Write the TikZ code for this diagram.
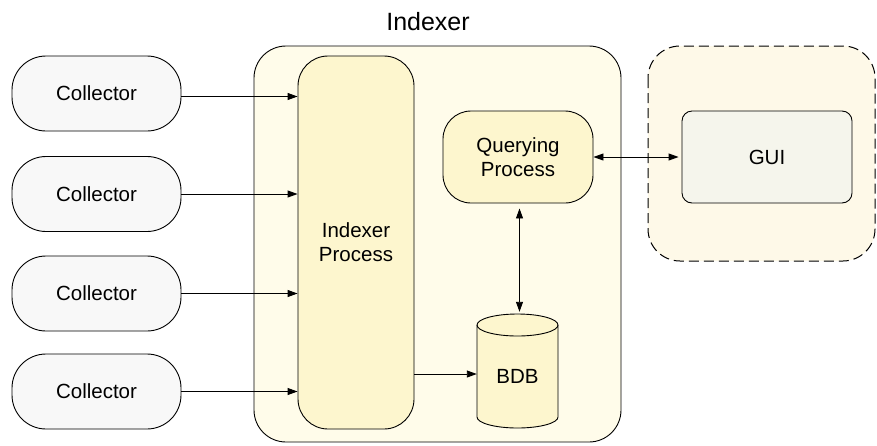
\documentclass[tikz,border=0pt]{standalone}
\usepackage{fontspec}
\setmainfont{Liberation Sans}
\usetikzlibrary{arrows.meta}

\definecolor{indexerbg}{RGB}{255,252,234}
\definecolor{procfill}{RGB}{253,246,206}
\definecolor{collfill}{RGB}{248,248,248}
\definecolor{guifill}{RGB}{245,245,236}
\definecolor{guibg}{RGB}{254,249,232}

\tikzset{
  box/.style={draw=black, line width=0.9pt, align=center,
    font=\fontsize{20.5}{24}\selectfont},
  collector/.style={box, fill=collfill, rounded corners=34pt,
    minimum width=169pt, minimum height=75pt},
  process/.style={box, fill=procfill, rounded corners=30pt},
  frame/.style={draw=black, line width=0.9pt, rounded corners=32pt},
  outline/.style={draw=black, line width=0.9pt},
  link/.style={line width=0.9pt, -{Triangle[length=10pt,width=7pt]}},
  duplex/.style={line width=0.9pt,
    {Triangle[length=10pt,width=7pt]}-{Triangle[length=10pt,width=7pt]}}
}

\begin{document}
\begin{tikzpicture}[x=1pt,y=-1pt]
  \useasboundingbox (0,0) rectangle (877,445);

  % containers
  \draw[frame, fill=indexerbg] (254,46) rectangle (621,442);
  \draw[frame, fill=guibg, line width=1pt, dash pattern=on 10pt off 5pt] (648,46) rectangle (875,261);
  \node (title) at (428,22) {\fontsize{25}{28}\selectfont Indexer};

  % collectors
  \node[collector] (c1) at (96.5,93.5) {Collector};
  \node[collector] (c2) at (96.5,194) {Collector};
  \node[collector] (c3) at (96.5,293.5) {Collector};
  \node[collector] (c4) at (96.5,391.5) {Collector};

  % indexer internals
  \node[process, minimum width=116pt, minimum height=373pt] (proc) at (356,242.5)
    {Indexer\\Process};
  \node[process, rounded corners=28pt, minimum width=150pt, minimum height=92pt]
    (qp) at (518,157) {Querying\\Process};

  % database cylinder
  \draw[outline, fill=procfill] (477,325) -- (477,417)
    arc[start angle=180, end angle=360, x radius=40.5pt, y radius=11pt]
    -- (558,325)
    arc[start angle=0, end angle=180, x radius=40.5pt, y radius=11pt] -- cycle;
  \draw[outline] (477,325)
    arc[start angle=180, end angle=360, x radius=40.5pt, y radius=11pt];
  \node[font=\fontsize{20.5}{24}\selectfont, minimum width=81pt, minimum height=104pt]
    (bdb) at (517.5,376) {BDB};

  % GUI
  \node[box, fill=guifill, rounded corners=10pt, minimum width=170pt,
    minimum height=92pt] (gui) at (767,157) {GUI};

  % connectors
  \draw[link] ([yshift=-3pt]c1.east) -- ([yshift=-3pt]c1.east -| proc.west);
  \draw[link] (c2.east) -- (c2.east -| proc.west);
  \draw[link] (c3.east) -- (c3.east -| proc.west);
  \draw[link] (c4.east) -- (c4.east -| proc.west);
  \draw[link] ([yshift=2pt]proc.east |- bdb.center) -- ([yshift=2pt]bdb.west);
  \draw[duplex, shorten >=3pt] (qp.east) -- (gui.west);
  \draw[duplex, shorten <=5pt, shorten >=1pt] ([xshift=1.5pt]qp.south)
    -- ([xshift=1.5pt,yshift=11pt]qp.south |- bdb.north);
\end{tikzpicture}
\end{document}
